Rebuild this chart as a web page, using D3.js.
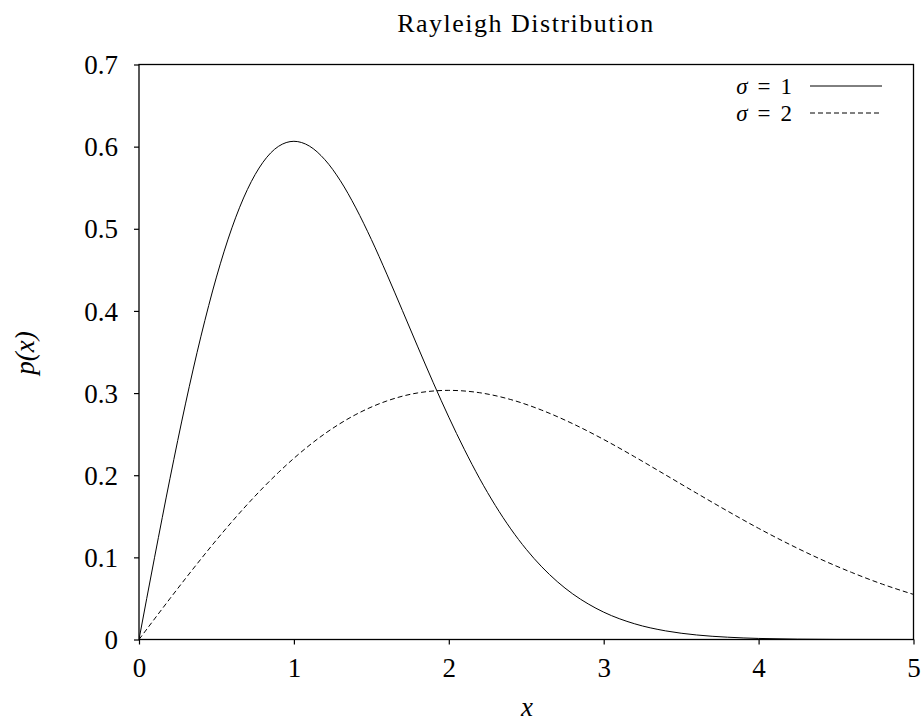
<!DOCTYPE html>
<html><head><meta charset="utf-8">
<script src="https://cdn.jsdelivr.net/npm/d3@7"></script>
<style>body{margin:0;background:#fff}svg{display:block}text{font-family:"Liberation Serif",serif;fill:#000}</style>
</head><body><svg id="c" width="921" height="721"></svg>
<script>
const xs1 = [0,0.1,0.2,0.3,0.4,0.5,0.6,0.7,0.8,0.9,1.0,1.1,1.2,1.3,1.4,1.5,1.6,1.7,1.8,1.9,2.0,2.1,2.2,2.3,2.4,2.5,2.6,2.7,2.8,2.9,3.0,3.2,3.4,3.6,3.8,4.0,4.5,5.0];
const sigma1 = [0,0.0995,0.196,0.2868,0.3692,0.4412,0.5012,0.5479,0.5809,0.6003,0.6065,0.6007,0.5841,0.5585,0.5254,0.4870,0.4448,0.4007,0.3562,0.3125,0.2707,0.2316,0.1956,0.1633,0.1347,0.1098,0.0885,0.0705,0.0555,0.0433,0.0333,0.0191,0.0105,0.0055,0.0028,0.0013,0.0001,0.0000];
const xs2 = [0,0.1,0.2,0.3,0.4,0.5,0.6,0.7,0.8,0.9,1.0,1.2,1.4,1.6,1.8,2.0,2.2,2.4,2.6,2.8,3.0,3.2,3.4,3.6,3.8,4.0,4.2,4.4,4.6,4.8,5.0];
const sigma2 = [0,0.025,0.0498,0.0742,0.0980,0.1212,0.1434,0.1646,0.1846,0.2033,0.2206,0.2506,0.2739,0.2904,0.3002,0.3033,0.3004,0.2921,0.2792,0.2627,0.2435,0.2224,0.2003,0.1781,0.1563,0.1353,0.1158,0.0978,0.0817,0.0673,0.0549];
const xTicks = [0,1,2,3,4,5];
const yTicks = [0,0.1,0.2,0.3,0.4,0.5,0.6,0.7];
const seriesSym = ["σ","σ"];
const seriesVal = ["1","2"];

const svg = d3.select("#c");
const L=139,R=913.5,T=64.5,B=639.5;
const x = d3.scaleLinear().domain([0,5]).range([L,R]);
const y = d3.scaleLinear().domain([0,0.7]).range([B,T]);

const line = d3.line().x(d=>x(d[0])).y(d=>y(d[1])).curve(d3.curveMonotoneX);
const data1 = xs1.map((v,i)=>[v,sigma1[i]]);
const data2 = xs2.map((v,i)=>[v,sigma2[i]]);

svg.append("clipPath").attr("id","cp").append("rect").attr("x",L).attr("y",T).attr("width",R-L).attr("height",B-T);
svg.append("path").datum(data1).attr("d",line).attr("fill","none").attr("stroke","#000").attr("stroke-width",1).attr("clip-path","url(#cp)");
svg.append("path").datum(data2).attr("d",line).attr("fill","none").attr("stroke","#000").attr("stroke-width",1).attr("stroke-dasharray","5,3").attr("clip-path","url(#cp)");

const xa = svg.append("g").attr("transform",`translate(0,${B})`).call(d3.axisBottom(x).tickValues(xTicks).tickSize(5).tickPadding(8).tickFormat(d3.format("d")));
const ya = svg.append("g").attr("transform",`translate(${L},0)`).call(d3.axisLeft(y).tickValues(yTicks).tickSize(5).tickPadding(16).tickFormat(d=>d===0?"0":d3.format(".1f")(d)));
[xa,ya].forEach(a=>{a.select(".domain").remove();a.selectAll("line").attr("stroke","#000").attr("stroke-width",1.2);a.selectAll("text").attr("font-size",27).attr("font-family","Liberation Serif").attr("fill","#000");});
xa.selectAll("text").attr("dy","0.92em");
ya.selectAll("text").attr("dy","0.34em");
svg.append("rect").attr("x",L).attr("y",T).attr("width",R-L).attr("height",B-T).attr("fill","none").attr("stroke","#000").attr("stroke-width",1.3);

svg.append("text").attr("x",526).attr("y",32).attr("text-anchor","middle").attr("font-size",26).attr("letter-spacing",1.5).text("Rayleigh Distribution");
svg.append("text").attr("x",527).attr("y",716).attr("text-anchor","middle").attr("font-size",27).attr("font-style","italic").text("x");
svg.append("text").attr("transform","translate(34,353) rotate(-90)").attr("text-anchor","middle").attr("font-size",27).attr("font-style","italic").text("p(x)");

const lg = svg.append("g");
seriesSym.forEach((s,i)=>{
  const yy = 86 + i*27;
  const t = lg.append("text").attr("x",792).attr("y",yy).attr("dy","0.34em").attr("text-anchor","end").attr("font-size",23);
  t.append("tspan").attr("font-style","italic").text(s);
  t.append("tspan").attr("dx",10).text("=");
  t.append("tspan").attr("dx",10).text(seriesVal[i]);
  lg.append("line").attr("x1",810).attr("x2",882).attr("y1",yy).attr("y2",yy).attr("stroke","#000").attr("stroke-width",1).attr("stroke-dasharray",i?"5,3":null);
});
</script></body></html>
